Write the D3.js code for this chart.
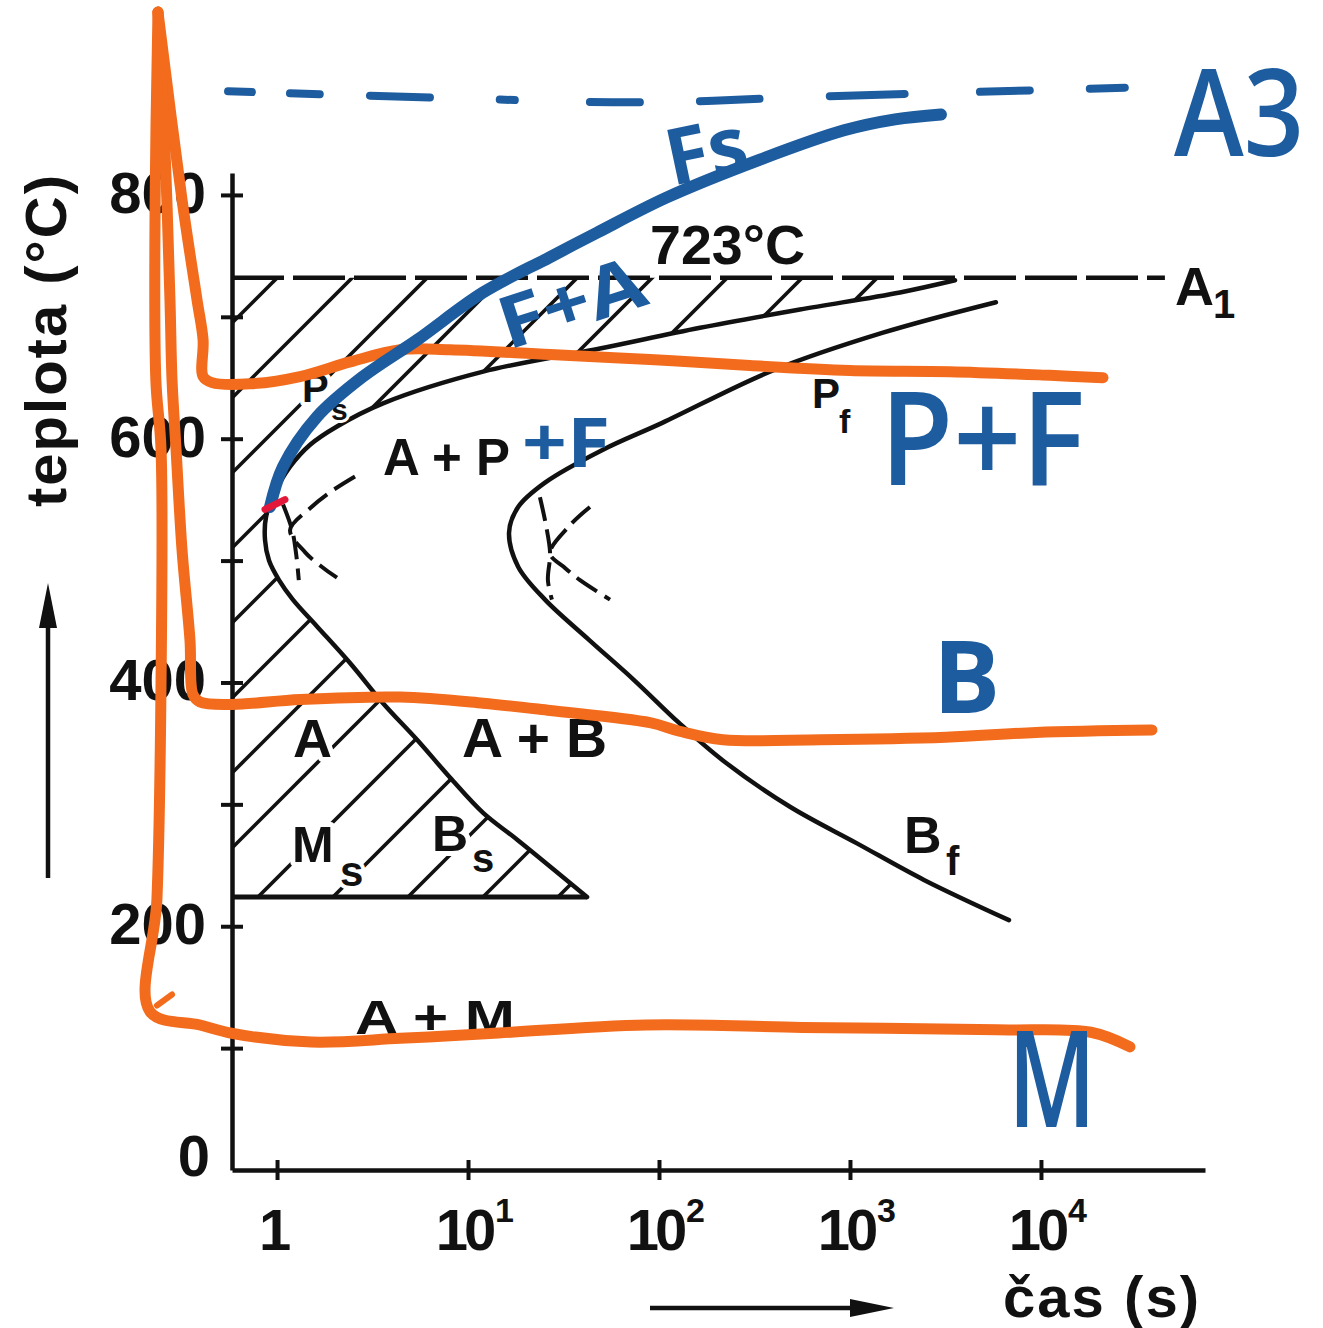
<!DOCTYPE html>
<html><head><meta charset="utf-8">
<script src="https://cdn.jsdelivr.net/npm/d3@7"></script>
<style>
html,body{margin:0;padding:0;background:#fff;}
svg{display:block;}
</style></head><body>
<svg id="chart" width="1323" height="1328"></svg>
<script>
// ---------------- data (time in s, temperature in °C) ----------------
const timeTicks = [1, 10, 100, 1000, 10000];
const timeTickBase = ["1", "10", "10", "10", "10"];
const timeTickExp  = ["", "1", "2", "3", "4"];
const tempTicks = [100, 200, 300, 400, 500, 600, 700, 800];
const tempTickLabels = [0, 200, 400, 600, 800];

const a1Temp = 732;          // A1 line as drawn (labelled 723 °C)
const a1End = 44570;
const msTemp = 224;          // base of the hatched triangle

// left C-curve: pearlite / bainite start (Ps, Bs)
const psCurve = [[3548,730],[1828,720],[547,706],[164,691],[49.1,674],[12.0,655],[3.59,629],[2.06,610],[1.49,595],[1.17,577],[0.976,556],[0.876,536],[0.865,517],[0.908,500],[1.024,484],[1.21,468],[1.62,446],[2.41,416],[3.59,383],[5.41,353],[8.05,322],[12.0,293],[18.1,271],[42.0,224]];
// right C-curve: finish (Pf, Bf)
const pfCurve = [[5810,712],[1489,687],[395,656],[104,613],[50.9,591],[25.3,564],[18.3,544],[16.4,523],[18.3,495],[25.3,468],[43.0,435],[74.0,402],[127,367],[216,336],[485,298],[1088,268],[2440,238],[6800,205]];
// dashed construction lines near the noses
const leftDashA  = [[2.56,569],[1.89,556],[1.49,543],[1.17,525],[1.40,507],[1.68,496],[2.06,486]];
const leftDashB  = [[1.075,546],[1.20,525],[1.26,505],[1.30,484]];
const rightDashA = [[43.5,544],[34.2,529],[26.9,506],[32.2,494],[38.6,484],[55.4,468]];
const rightDashB = [[23.8,552],[25.6,529],[26.9,506],[26.2,484],[27.5,468]];

// hand-drawn cooling paths (orange)
const coolPF = [[0.238,950],[0.318,796],[0.381,714],[0.410,681],[0.410,651],[0.457,646],[0.722,645],[1.32,651],[2.41,663],[4.41,673],[8.05,673],[26.9,669],[89.7,665],[299,660],[1000,656],[3340,655],[11140,652],[21130,650]];
const coolB  = [[0.238,950],[0.259,837],[0.275,714],[0.282,648],[0.296,591],[0.318,509],[0.350,435],[0.363,390],[0.395,384],[0.581,382],[1.32,386],[4.41,388],[12.0,383],[26.9,377],[89.7,367],[128,360],[216,353],[705,353],[3181,355],[9420,359],[38120,361]];
const coolM  = [[0.238,950],[0.230,796],[0.232,648],[0.247,591],[0.247,402],[0.235,222],[0.216,130],[0.395,119],[0.588,112],[1.51,105],[4.41,108],[13.0,112],[85.5,119],[561,117],[5886,115],[18270,113],[29250,101]];
const coolMTick = [[0.235,135],[0.282,144]];

// hand-drawn blue additions
const fsCurve = [[0.919,544],[1.075,577],[1.62,618],[2.82,651],[5.41,681],[12.0,720],[26.9,749],[47.3,769],[110,798],[338,829],[931,853],[1722,862],[2994,866]];
const fsTip = [[0.865,542],[1.10,550]];
const a3Line = [[0.554,885],[6.33,880],[79.6,876],[785,881],[27540,888]];

// ---------------- drawing ----------------
const BLACK = "#111", BLUE = "#1d5c9f", ORANGE = "#f36b1c", RED = "#e3173a";
const FONT = "'Liberation Sans', Arial, sans-serif";
const HAND = "'Open Sans', 'DejaVu Sans', sans-serif";
const svg = d3.select("#chart");
svg.append("rect").attr("width",1323).attr("height",1328).attr("fill","#fff");

const x = d3.scaleLog().domain([0.581, 72270]).range([232, 1205]);
const y = d3.scaleLinear().domain([0, 818]).range([1170, 173]);
const smooth = d3.line().x(d => x(d[0])).y(d => y(d[1])).curve(d3.curveCatmullRom.alpha(0.5));
const straight = d3.line().x(d => x(d[0])).y(d => y(d[1]));

// hatched austenite region: axis -> Ms base -> Ps curve (smooth) -> A1
const tMin = x.domain()[0];
const psRev = psCurve.slice().reverse();
const clipD = straight([[tMin, a1Temp], [tMin, msTemp]]) +
  smooth(psRev).replace(/^M/, "L") +
  "L" + x(psCurve[0][0]) + "," + y(a1Temp) + "Z";
const defs = svg.append("defs");
defs.append("clipPath").attr("id","hclip").append("path").attr("d", clipD);
const hg = svg.append("g").attr("clip-path","url(#hclip)");
for (let c = 30; c < 2400; c += 75) {
  hg.append("line").attr("x1", c - 1400).attr("y1", 1400).attr("x2", c + 100).attr("y2", -100)
    .attr("stroke", BLACK).attr("stroke-width", 3.6);
}

// axes
const xAxis = d3.axisBottom(x).tickValues(timeTicks).tickSizeInner(10).tickSizeOuter(0).tickFormat("");
const gx = svg.append("g").attr("transform", `translate(0,${y(0)})`).call(xAxis);
gx.select(".domain").attr("stroke", BLACK).attr("stroke-width", 4.5);
gx.selectAll(".tick line").attr("y1", -10).attr("y2", 10).attr("stroke", BLACK).attr("stroke-width", 4);

const yAxis = d3.axisLeft(y).tickValues(tempTicks).tickSizeInner(11).tickSizeOuter(0).tickFormat("");
const gy = svg.append("g").attr("transform", `translate(${x(tMin)},0)`).call(yAxis);
gy.select(".domain").attr("stroke", BLACK).attr("stroke-width", 4.5);
gy.selectAll(".tick line").attr("x1", -11).attr("x2", 11).attr("stroke", BLACK).attr("stroke-width", 4);

// tick labels
timeTicks.forEach((v, i) => {
  svg.append("text").attr("x", x(v) - 4).attr("y", 1250).attr("text-anchor","middle")
    .attr("font-family", FONT).attr("font-weight", "bold").attr("font-size", 58).attr("letter-spacing", -4)
    .attr("fill", BLACK).text(timeTickBase[i]);
  if (timeTickExp[i]) {
    svg.append("text").attr("x", x(v) + 27).attr("y", 1222).attr("font-family", FONT).attr("font-weight", "bold")
      .attr("font-size", 34).attr("fill", BLACK).text(timeTickExp[i]);
  }
});
tempTickLabels.forEach(v => {
  const yy = v === 0 ? y(0) - 15 : y(v) - 3;
  svg.append("text").attr("x", v === 0 ? 210 : 206).attr("y", yy).attr("dy", "0.36em")
    .attr("text-anchor","end").attr("font-family", FONT).attr("font-weight", "bold").attr("font-size", 58)
    .attr("fill", BLACK).text(v);
});

// axis titles + arrows
svg.append("text").attr("transform","translate(66,340) rotate(-90)").attr("text-anchor","middle")
  .attr("font-family", FONT).attr("font-weight", "bold").attr("font-size", 58).attr("letter-spacing", 2)
  .attr("fill", BLACK).text("teplota (°C)");
svg.append("line").attr("x1",48).attr("y1",878).attr("x2",48).attr("y2",615).attr("stroke",BLACK).attr("stroke-width",4.5);
svg.append("path").attr("d","M48,583 L39,628 L57,628 Z").attr("fill",BLACK);
svg.append("text").attr("x",1003).attr("y",1317).attr("font-family",FONT).attr("font-weight","bold")
  .attr("font-size",58).attr("textLength",196).attr("lengthAdjust","spacing").attr("fill",BLACK).text("čas (s)");
svg.append("line").attr("x1",650).attr("y1",1308).attr("x2",860).attr("y2",1308).attr("stroke",BLACK).attr("stroke-width",4.5);
svg.append("path").attr("d","M894,1308 L850,1299 L850,1317 Z").attr("fill",BLACK);

// diagram lines
svg.append("path").attr("d", straight([[tMin, a1Temp], [a1End, a1Temp]]))
  .attr("stroke", BLACK).attr("stroke-width", 4.5).attr("fill","none").attr("stroke-dasharray","52 9");
svg.append("path").attr("d", straight([[tMin, msTemp], [psCurve[psCurve.length-1][0], msTemp]]))
  .attr("stroke", BLACK).attr("stroke-width", 5).attr("fill","none");
[psCurve, pfCurve].forEach(c => svg.append("path").attr("d", smooth(c))
  .attr("stroke", BLACK).attr("stroke-width", 4.5).attr("fill","none").attr("stroke-linecap","round"));
[leftDashA, leftDashB, rightDashA, rightDashB].forEach(c => svg.append("path").attr("d", smooth(c))
  .attr("stroke", BLACK).attr("stroke-width", 4).attr("fill","none").attr("stroke-dasharray","24 9"));

// black labels
function txt(s, xx, yy, size, o = {}) {
  const t = svg.append("text").attr("x", xx).attr("y", yy).attr("font-size", size)
    .attr("font-family", o.font || FONT).attr("fill", o.fill || BLACK).text(s);
  if (o.len) t.attr("textLength", o.len).attr("lengthAdjust", "spacingAndGlyphs");
  t.attr("font-weight", o.weight || "bold");
  if (o.rotate) t.attr("transform", `rotate(${o.rotate},${xx},${yy})`);
  if (o.halo) t.attr("stroke", "#fff").attr("stroke-width", o.halo).attr("paint-order", "stroke").attr("stroke-linejoin", "round");
  return t;
}
txt("723°C", 650, 264, 56, {len: 155});
txt("A", 1175, 305, 54); txt("1", 1213, 318, 40);
txt("P", 302, 402, 40, {halo: 9}); txt("s", 331, 420, 30, {halo: 6});
txt("P", 812, 408, 42); txt("f", 839, 433, 34);
txt("A + P", 383, 475, 52, {len: 127});
txt("A", 293, 757, 54, {halo: 10});
txt("A + B", 462, 757, 56, {len: 145});
txt("M", 292, 862, 50, {halo: 10}); txt("s", 340, 886, 42, {halo: 8});
txt("B", 432, 851, 50, {halo: 10}); txt("s", 472, 872, 40, {halo: 8});
txt("B", 904, 853, 52); txt("f", 946, 875, 40);
txt("A + M", 355, 1034, 48, {len: 160});

// orange cooling paths
[coolPF, coolB, coolM].forEach(c => svg.append("path").attr("d", smooth(c))
  .attr("stroke", ORANGE).attr("stroke-width", 11).attr("fill","none")
  .attr("stroke-linecap","round").attr("stroke-linejoin","round"));
svg.append("path").attr("d", straight(coolMTick)).attr("stroke", ORANGE).attr("stroke-width", 6)
  .attr("fill","none").attr("stroke-linecap","round");

// blue additions
svg.append("path").attr("d", smooth(fsCurve)).attr("stroke", BLUE).attr("stroke-width", 12)
  .attr("fill","none").attr("stroke-linecap","round");
svg.append("path").attr("d", straight(fsTip)).attr("stroke", RED).attr("stroke-width", 7)
  .attr("fill","none").attr("stroke-linecap","round");
svg.append("path").attr("d", smooth(a3Line)).attr("stroke", BLUE).attr("stroke-width", 8)
  .attr("fill","none").attr("stroke-linecap","round")
  .attr("stroke-dasharray","24 38 30 50 60 70 15 75 50 60 60 70 75 75 50 60 35 40");

txt("Fs", 672, 186, 78, {fill: BLUE, font: HAND, weight: 700, rotate: -12});
txt("F+A", 508, 350, 72, {fill: BLUE, font: HAND, weight: 700, rotate: -18, len: 150});
txt("+F", 522, 467, 68, {fill: BLUE, font: HAND, weight: 700, len: 88});
txt("P+F", 880, 485, 130, {fill: BLUE, font: HAND, weight: 600, len: 205});
txt("B", 933, 713, 100, {fill: BLUE, font: HAND, weight: 700});
txt("M", 1008, 1127, 135, {fill: BLUE, font: HAND, weight: 600, len: 88});
txt("A3", 1174, 156, 122, {fill: BLUE, font: HAND, weight: 600, len: 130});
</script>
</body></html>
